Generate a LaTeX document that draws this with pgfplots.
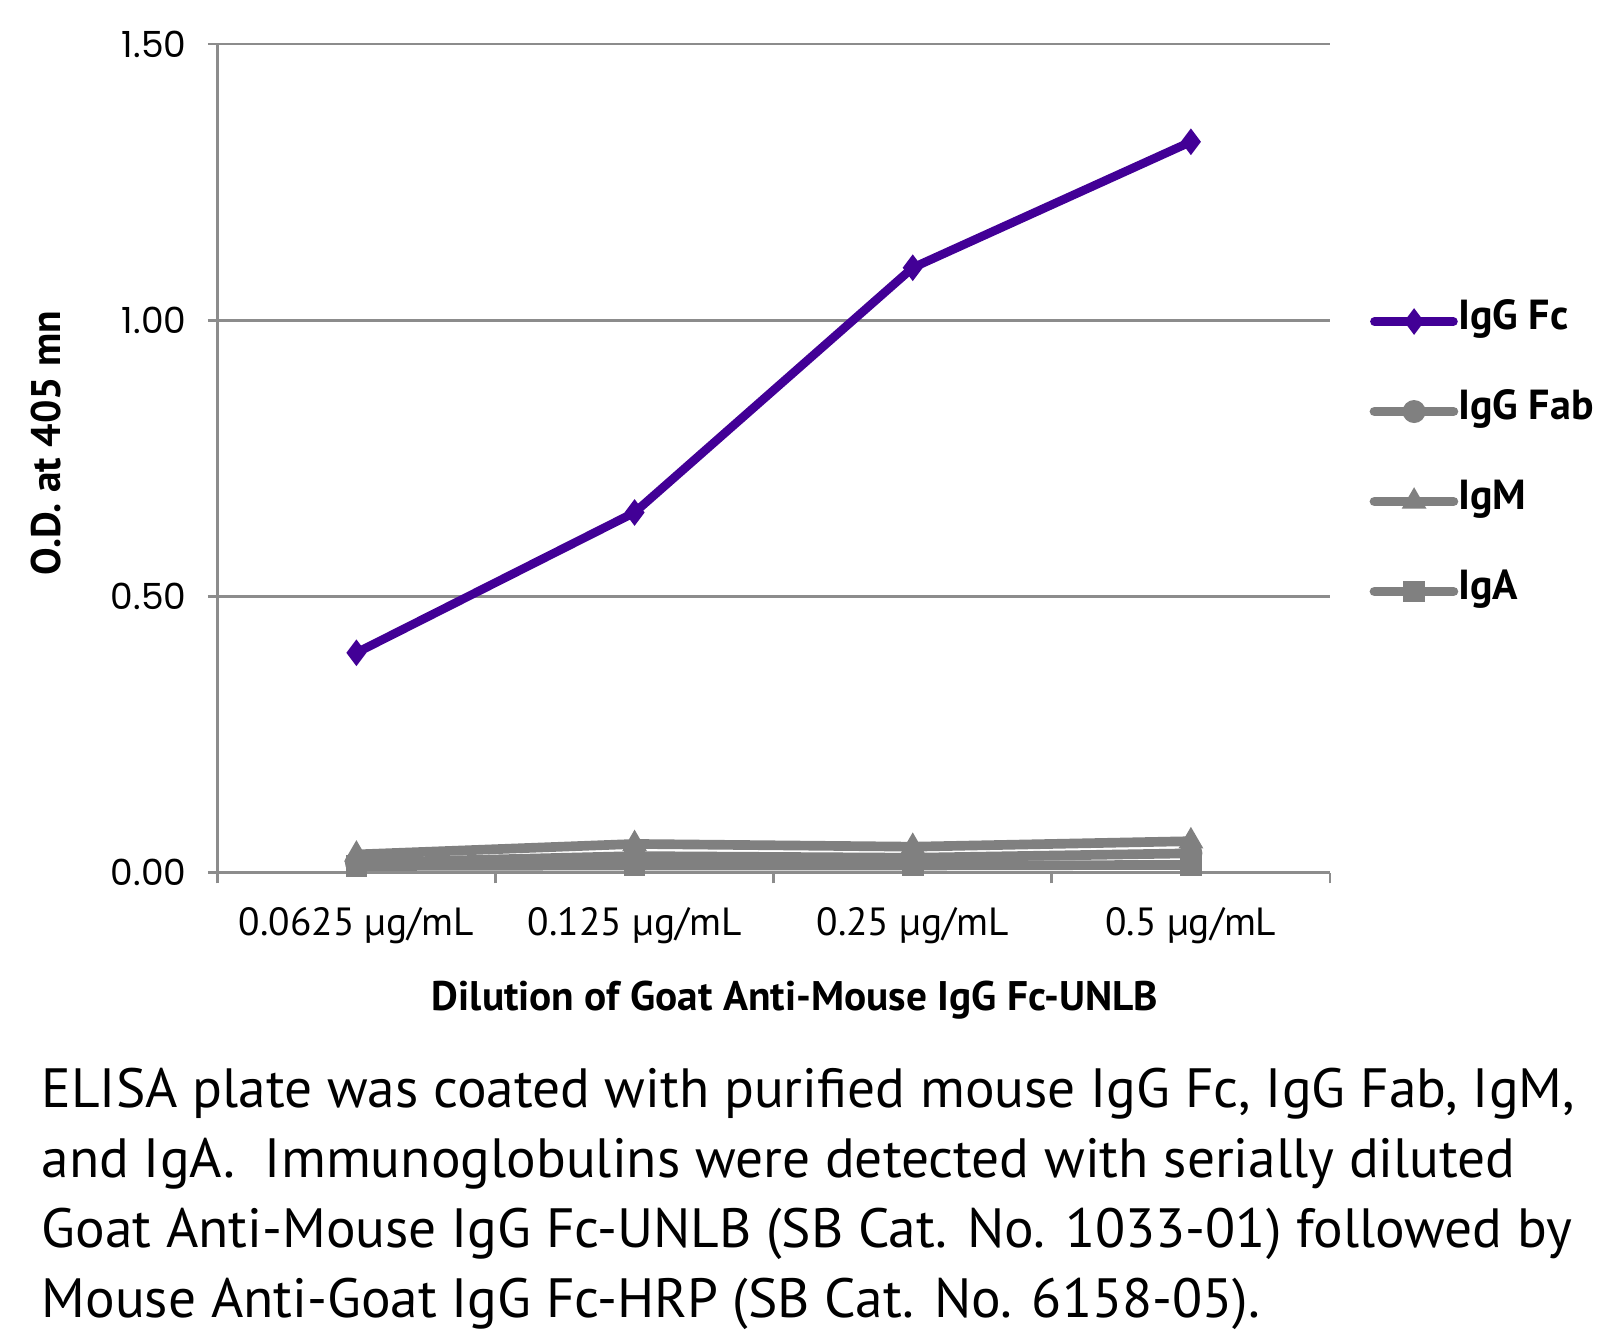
\documentclass[border=0pt]{standalone}
\usepackage{fontspec}
\setmainfont{PT Sans}
\newfontfamily\tickfont{Poppins}
\usepackage{pgfplots}
\pgfplotsset{compat=1.18}
\definecolor{fcpurple}{RGB}{66,0,150}
\definecolor{sergray}{RGB}{128,128,128}
\definecolor{axgray}{RGB}{140,140,140}
\tikzset{
  lshadow/.style={preaction={draw=black, opacity=0.22, transform canvas={xshift=1.3pt,yshift=-1.6pt}}},
  mshadow/.style={preaction={draw=black, fill=black, opacity=0.22, transform canvas={xshift=1.3pt,yshift=-1.6pt}}},
}
\begin{document}
\begin{tikzpicture}
\useasboundingbox (0,0) rectangle (482.4pt,399.6pt);
\begin{axis}[
  at={(65.2pt,137.8pt)}, anchor=south west,
  scale only axis, width=333.8pt, height=248.6pt,
  xmin=-0.5, xmax=3.5, ymin=0, ymax=1.5,
  clip=false,
  axis x line*=bottom, axis y line*=left,
  axis line style={draw=axgray, line width=0.8pt, -},
  ytick={0,0.5,1,1.5},
  yticklabel style={font=\tickfont\fontsize{10.8}{12}\selectfont, text=black, xshift=-3pt},
  yticklabel style={/pgf/number format/.cd, fixed, fixed zerofill, precision=2, assume math mode=true},
  ymajorgrids, grid style={axgray, line width=0.8pt},
  tick align=outside,
  major tick length=2.8pt,
  minor tick length=3.2pt,
  ytick style={axgray, line width=0.8pt},
  xtick={0,1,2,3},
  xticklabels={0.0625 µg/mL, 0.125 µg/mL, 0.25 µg/mL, 0.5 µg/mL},
  major x tick style={draw=none},
  minor xtick={-0.5,0.5,1.5,2.5,3.5},
  minor x tick style={axgray, line width=0.8pt},
  xticklabel style={font=\fontsize{11.8}{13}\selectfont, anchor=center, yshift=-13pt},
  legend cell align=left,
  legend style={at={(rel axis cs:1.035,0.688)}, anchor=north west, draw=none, fill=none,
    inner sep=0pt, row sep=16pt, font=\bfseries\fontsize{12.6}{14}\selectfont,
    nodes={inner sep=0pt, text height=8pt, text depth=3pt}},
  legend image code/.code={
    \draw[#1, mark=none, line cap=round] (0.6pt,0pt) -- (24.3pt,0pt);
    \draw[#1] plot coordinates {(12.5pt,0pt)};
  },
]
\addplot[fcpurple, line width=2.6pt, mark=diamond*, mark size=3.6pt, mark options={solid, line width=0.5pt}]
  coordinates {(0,0.398) (1,0.652) (2,1.095) (3,1.323)};
\addlegendentry{IgG Fc}
\addplot[sergray, line width=2.9pt, mark=*, mark size=3.2pt, mark options={solid, line width=0.5pt}]
  coordinates {(0,0.018) (1,0.030) (2,0.027) (3,0.035)};
\addlegendentry{IgG Fab}
\addplot[sergray, line width=2.9pt, mark=triangle*, mark size=3.8pt, mark options={solid, line width=0.5pt}]
  coordinates {(0,0.033) (1,0.052) (2,0.047) (3,0.057)};
\addlegendentry{IgM}
\addplot[sergray, line width=2.9pt, mark=square*, mark size=3pt, mark options={solid, line width=0.5pt}]
  coordinates {(0,0.012) (1,0.013) (2,0.013) (3,0.014)};
\addlegendentry{IgA}
\end{axis}
\node[font=\bfseries\fontsize{12.4}{14}\selectfont, anchor=center] at (238.5pt,99.6pt) {Dilution of Goat Anti-Mouse IgG Fc-UNLB};
\node[font=\bfseries\fontsize{12.4}{14}\selectfont, anchor=center, rotate=90] at (13.8pt,266.7pt) {O.D. at 405 mn};
\begin{scope}[every node/.style={anchor=base west, inner sep=0pt, font=\fontsize{16.6}{20}\selectfont}]
\node at (12.3pt,67.5pt) {ELISA plate was coated with purified mouse IgG Fc, IgG Fab, IgM,};
\node at (12.3pt,46.5pt) {and IgA.\ \ Immunoglobulins were detected with serially diluted};
\node at (12.3pt,25.5pt) {Goat Anti-Mouse IgG Fc-UNLB (SB Cat. No. 1033-01) followed by};
\node at (12.3pt,4.5pt) {Mouse Anti-Goat IgG Fc-HRP (SB Cat. No. 6158-05).};
\end{scope}
\end{tikzpicture}
\end{document}
